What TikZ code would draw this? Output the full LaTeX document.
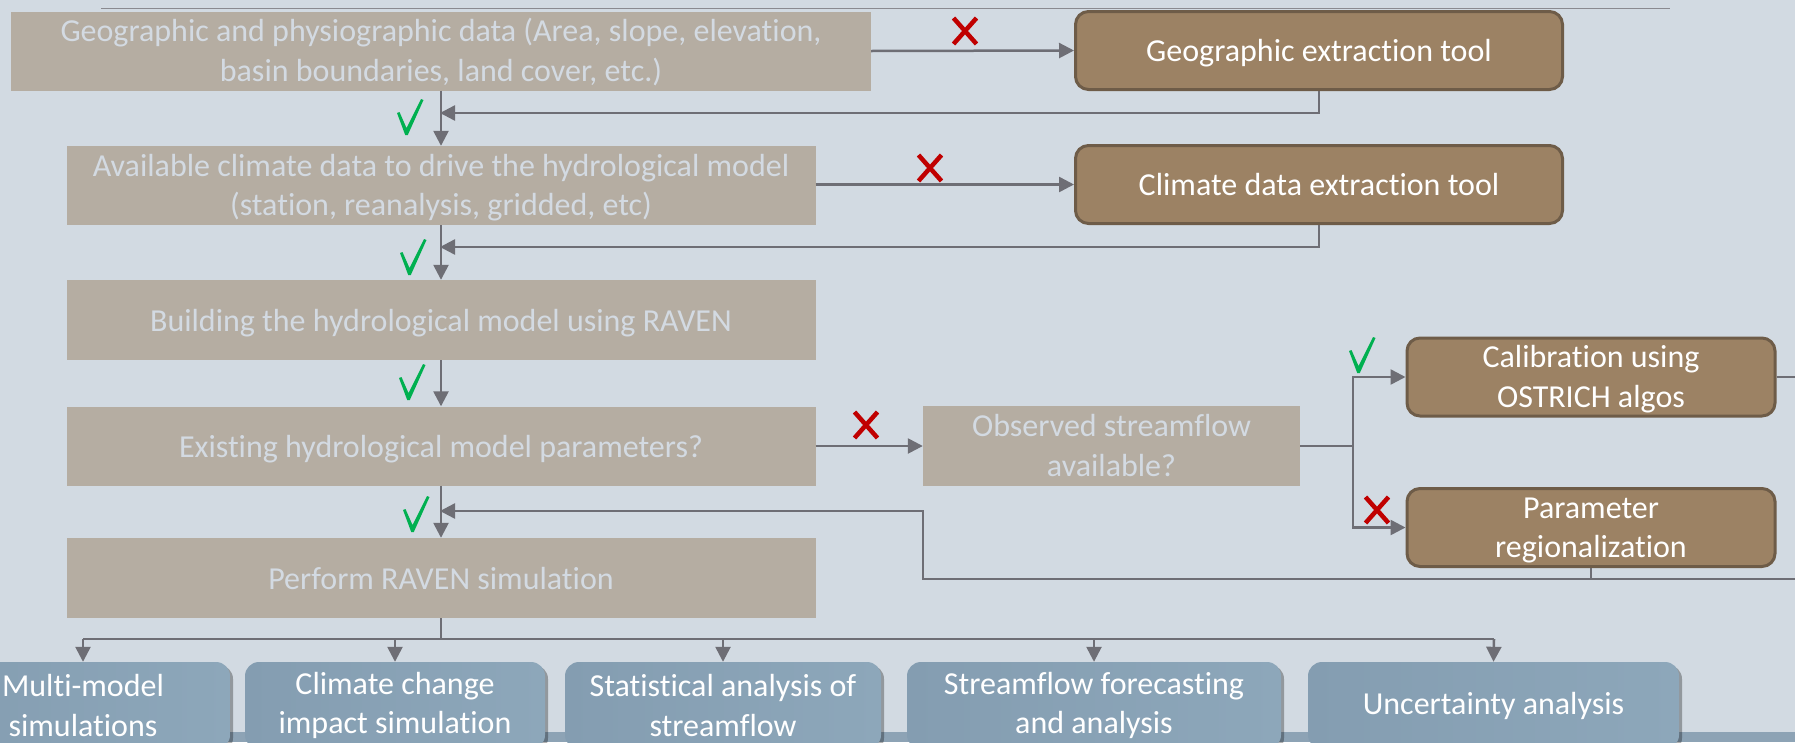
\documentclass[tikz,border=0pt]{standalone}
\usepackage{fontspec}
\setmainfont{Carlito}[Ligatures=NoCommon]
\usetikzlibrary{arrows.meta,shadows,calc}
\definecolor{bgc}{HTML}{D2DAE2}
\definecolor{grayfill}{HTML}{B5ADA2}
\definecolor{graytext}{HTML}{D3DAE2}
\definecolor{brownfill}{HTML}{9C8264}
\definecolor{browndraw}{HTML}{6E5C48}
\definecolor{linec}{HTML}{6E6E75}
\definecolor{topline}{HTML}{8A8A90}
\definecolor{xred}{HTML}{C00000}
\definecolor{chkgreen}{HTML}{00B050}
\definecolor{blueL}{HTML}{849DB1}
\definecolor{blueR}{HTML}{8DA7BA}
\definecolor{bandc}{HTML}{8DA3B5}
\begin{document}
\begin{tikzpicture}[x=1pt,y=-1pt,
  txt/.style={font=\fontsize{32}{39.5}\selectfont, align=center, inner sep=0pt},
  oneline/.style={text height=28pt, text depth=6pt},
  twoline/.style={text height=66pt, text depth=6pt},
  graybox/.style={txt, fill=grayfill, text=graytext},
  brownbox/.style={txt, fill=brownfill, draw=browndraw, line width=3pt, rounded corners=13pt, text=white, minimum width=487pt, minimum height=78pt},
  bluebox/.style={txt, left color=blueL, right color=blueR, rounded corners=14pt, text=white, minimum height=87pt,
     drop shadow={shadow xshift=3pt, shadow yshift=-3pt, opacity=0.3, fill=black}},
  line/.style={draw=linec, line width=2.5pt},
  conn/.style={line, -{Triangle[length=15pt,width=15pt]}},
  chkpic/.pic={\fill[chkgreen] (-9,-22) -- (-6.5,-23) -- (0.5,-7) -- (15,-36) -- (17.5,-35) -- (1.8,0) -- (-0.8,0) -- cycle;},
  xpic/.pic={\draw[xred, line width=4.5pt] (-11.5,-13) -- (11.5,13) (11.5,-13) -- (-11.5,13);}
]
\useasboundingbox (0,0) rectangle (1795,742);
\clip (0,0) rectangle (1795,742);
\fill[bgc] (0,0) rectangle (1795,742);
\fill[bandc] (0,732) rectangle (1795,742);
\coordinate (tl1) at (101,8.5);
\coordinate (tl2) at (1670,8.5);
\draw[topline, line width=1.5pt] (tl1) -- (tl2);

% main column
\node[graybox, twoline, minimum width=860pt, minimum height=79pt] (geo) at (441,51) {Geographic and physiographic data (Area, slope, elevation,\\basin boundaries, land cover, etc.)};
\node[graybox, twoline, minimum width=749pt, minimum height=79pt] (clim) at (441,185.5) {Available climate data to drive the hydrological model\\(station, reanalysis, gridded, etc)};
\node[graybox, oneline, minimum width=749pt, minimum height=80pt] (build) at (441,320) {Building the hydrological model using RAVEN};
\node[graybox, oneline, minimum width=749pt, minimum height=79pt] (exist) at (441,446) {Existing hydrological model parameters?};
\node[graybox, oneline, minimum width=749pt, minimum height=80pt] (sim) at (441,578) {Perform RAVEN simulation};
\node[graybox, twoline, minimum width=377pt, minimum height=80pt] (obs) at (1111.5,446) {Observed streamflow\\available?};

% tools
\node[brownbox, oneline] (gtool) at (1319,50.5) {Geographic extraction tool};
\node[brownbox, oneline] (ctool) at (1319,184.5) {Climate data extraction tool};
\node[brownbox, twoline, minimum width=368pt] (cal) at (1591,377) {Calibration using\\OSTRICH algos};
\node[brownbox, twoline, minimum width=368pt] (par) at (1591,527.5) {Parameter\\regionalization};

% bottom
\node[bluebox, minimum width=294pt] (mm) at (83,705.5) {Multi-model\\simulations};
\node[bluebox, minimum width=300pt] (cc) at (395,705.5) {Climate change\\impact simulation};
\node[bluebox, minimum width=316pt] (st) at (723,705.5) {Statistical analysis of\\streamflow};
\node[bluebox, minimum width=374pt] (sf) at (1094,705.5) {Streamflow forecasting\\and analysis};
\node[bluebox, minimum width=371pt] (ua) at (1493.5,705.5) {Uncertainty analysis};

% connectors
\coordinate (j1) at (441,113);
\coordinate (j2) at (441,247);
\coordinate (j4) at (441,511);
\coordinate (fork) at (1353,446);
\coordinate (rE1) at (1795,377);
\coordinate (rE2) at (1795,579);
\coordinate (rJ) at (923,579);
\coordinate (bus) at (441,639);
\coordinate (busL) at (83,639);
\coordinate (busR) at (1494,639);

\draw[conn] (geo.east) -- (gtool.west);
\draw[conn, shorten >=-1pt] (gtool.south) |- (j1);
\draw[conn] (geo.south) -- (clim.north);
\draw[conn] (clim.east |- ctool.west) -- (ctool.west);
\draw[conn, shorten >=-1pt] (ctool.south) |- (j2);
\draw[conn] (clim.south) -- (build.north);
\draw[conn] (build.south) -- (exist.north);
\draw[conn] (exist.east) -- (obs.west);
\draw[line] (obs.east) -- (fork);
\draw[conn] (fork) |- (cal.west);
\draw[conn] (fork) |- (par.west);
\draw[line] (cal.east) -- (rE1);
\draw[line] (par.south) -- (par.south |- rJ);
\draw[conn, shorten >=-1pt] (rE2) -- (rJ) |- (j4);
\draw[conn] (exist.south) -- (sim.north);
\draw[line] (sim.south) -- (bus);
\draw[line] (busL) -- (busR);
\draw[conn] (busL) -- (mm.north);
\draw[conn] (cc.north |- bus) -- (cc.north);
\draw[conn] (st.north |- bus) -- (st.north);
\draw[conn] (sf.north |- bus) -- (sf.north);
\draw[conn] (busR) -- (ua.north);

% marks
\pic at (406,135) {chkpic};
\pic at (409,275) {chkpic};
\pic at (408,400) {chkpic};
\pic at (412,532) {chkpic};
\pic at (1358,373) {chkpic};
\pic at (965,31) {xpic};
\pic at (930,168) {xpic};
\pic at (866,425) {xpic};
\pic at (1377,510) {xpic};
\end{tikzpicture}
\end{document}
